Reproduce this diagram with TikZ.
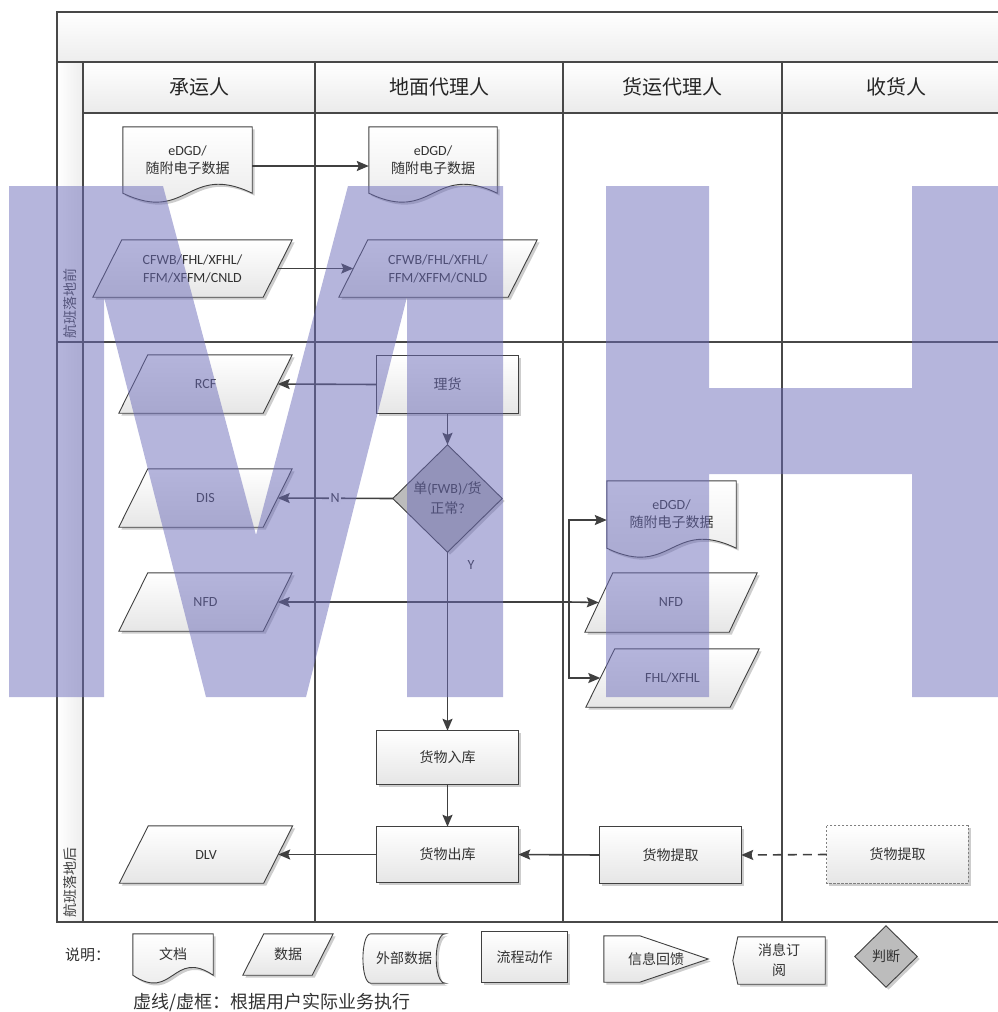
\documentclass[tikz,border=0pt]{standalone}
\usepackage{fontspec}
\setmainfont{Carlito}
\newfontfamily\cjkfont{Noto Sans CJK SC}
\newcommand\ZH[1]{{\cjkfont #1}}
\usetikzlibrary{shapes.geometric,arrows.meta,calc}
\pgfdeclarelayer{background}
\pgfdeclarelayer{foreground}
\pgfsetlayers{background,main,foreground}
\definecolor{lineC}{RGB}{64,64,64}
\definecolor{frameC}{RGB}{72,72,72}
\definecolor{txtC}{RGB}{50,50,50}
\definecolor{shadeB}{RGB}{230,230,230}
\definecolor{shadowC}{RGB}{205,205,205}
\definecolor{diaC}{RGB}{188,188,188}
\definecolor{wmC}{RGB}{107,107,185}
\tikzset{
  shp/.style={draw=lineC,line width=0.9pt,top color=white,bottom color=shadeB},
  dshp/.style={draw=gray,line width=0.9pt,dash pattern=on 2.5pt off 1.5pt,top color=white,bottom color=shadeB},
  diashp/.style={draw=lineC,line width=0.9pt,fill=diaC},
  txt/.style={text=txtC,font=\fontsize{14}{18}\selectfont,align=center,inner sep=0pt},
  procbox/.style={txt,rectangle,minimum width=141pt,minimum height=56pt},
  databox/.style={txt,rectangle,minimum width=144pt,minimum height=58pt},
  docbox/.style={txt,rectangle,minimum width=129pt,minimum height=66pt},
  headtxt/.style={text=black!85,font=\fontsize{20}{24}\selectfont\cjkfont,inner sep=0pt},
  phasetxt/.style={text=black!75,font=\fontsize{14}{16}\selectfont\cjkfont,inner sep=0pt,rotate=90},
  conn/.style={draw=lineC,line width=1.6pt,-{Stealth[length=12pt,width=10pt,inset=2pt]}},
  frame/.style={draw=frameC,line width=1.3pt},
}
\newcommand\drawshape[2]{%
  \begin{pgfonlayer}{background}
    \fill[shadowC,transform canvas={shift={(2.5pt,-2.5pt)}}] #2;
    \path[#1] #2;
  \end{pgfonlayer}}
\newcommand\rectshape[2][shp]{\drawshape{#1}{(#2.north west) rectangle (#2.south east)}}
\newcommand\parashape[3][shp]{\drawshape{#1}{([xshift=#3pt]#2.north west) -- ([xshift=#3pt]#2.north east) -- ([xshift=-#3pt]#2.south east) -- ([xshift=-#3pt]#2.south west) -- cycle}}
\newcommand\docshape[3][shp]{\drawshape{#1}{(#2.north west) -- (#2.north east) -- (#2.south east) .. controls ($(#2.south)+(0,-#3)$) and ($(#2.south)+(0,#3)$) .. (#2.south west) -- cycle}}
\newcommand\diashape[2][diashp]{\drawshape{#1}{(#2.north) -- (#2.east) -- (#2.south) -- (#2.west) -- cycle}}
\begin{document}
\begin{tikzpicture}[x=1pt,y=-1pt]
\useasboundingbox (0,0) rectangle (998,1012);
% ---------- frame ----------
\begin{pgfonlayer}{background}
  \shade[top color=white,bottom color=black!7] (57,12) rectangle (1012,62);
  \shade[top color=white,bottom color=black!8] (83,62) rectangle (1012,113);
  \shade[left color=white,right color=black!7] (57,62) rectangle (83,922);
  \draw[frame] (1012,12) -- (57,12) -- (57,922) -- (1012,922);
  \draw[frame] (57,62) -- (1012,62);
  \draw[frame] (83,62) -- (83,922);
  \draw[frame] (83,113) -- (1012,113);
  \draw[frame] (57,342) -- (1012,342);
  \draw[frame] (315,62) -- (315,922);
  \draw[frame] (563,62) -- (563,922);
  \draw[frame] (782,62) -- (782,922);
\end{pgfonlayer}
\node[headtxt] (h1) at (199,87) {承运人};
\node[headtxt] (h2) at (439,87) {地面代理人};
\node[headtxt] (h3) at (672.5,87) {货运代理人};
\node[headtxt] (h4) at (896,87) {收货人};
\node[phasetxt] (p1) at (70,303.5) {航班落地前};
\node[phasetxt] (p2) at (70,882) {航班落地后};
% ---------- before landing ----------
\node[docbox] (d1) at (187.5,160) {eDGD/\\\ZH{随附电子数据}};
\docshape{d1}{31}
\node[docbox,minimum width=128pt] (d2) at (433,160) {eDGD/\\\ZH{随附电子数据}};
\docshape{d2}{31}
\node[databox,minimum width=170pt,minimum height=57pt] (c1) at (192.5,268.5) {CFWB/FHL/XFHL/\\FFM/XFFM/CNLD};
\parashape{c1}{14.5}
\node[databox,minimum width=169pt,minimum height=57pt] (c2) at (438,268.5) {CFWB/FHL/XFHL/\\FFM/XFFM/CNLD};
\parashape{c2}{14.5}
\draw[conn] ([yshift=-6pt]d1.east) -- ([yshift=-6pt]d2.west);
\draw[conn] (c1.east) -- (c2.west);
% ---------- after landing ----------
\node[databox] (rcf) at (205.5,384) {RCF};
\parashape{rcf}{14.5}
\node[procbox,minimum height=57pt] (lihuo) at (447.5,384.5) {\ZH{理货}};
\rectshape{lihuo}
\node[txt,diamond,minimum width=109pt,minimum height=107pt,font=\fontsize{14}{20}\selectfont] (dia) at (447.5,498.5) {\ZH{单}(FWB)/\ZH{货}\\\ZH{正常}?};
\diashape{dia}
\node[databox] (dis) at (205.5,498) {DIS};
\parashape{dis}{14.5}
\node[databox] (nfd1) at (205.5,602) {NFD};
\parashape{nfd1}{14.5}
\node[docbox,minimum height=67pt] (d3) at (671.5,514.5) {eDGD/\\\ZH{随附电子数据}};
\docshape{d3}{31}
\node[databox,minimum height=59pt] (nfd2) at (671,602.5) {NFD};
\parashape{nfd2}{14}
\node[databox] (fhl) at (672.5,678) {FHL/XFHL};
\parashape{fhl}{14.5}
\node[procbox,minimum height=53pt] (ruku) at (447.5,757.5) {\ZH{货物入库}};
\rectshape{ruku}
\node[procbox,minimum height=55pt] (chuku) at (447.5,854.5) {\ZH{货物出库}};
\rectshape{chuku}
\node[databox,minimum height=57pt] (dlv) at (206,854.5) {DLV};
\parashape{dlv}{14.5}
\node[procbox] (tq1) at (670.5,855) {\ZH{货物提取}};
\rectshape{tq1}
\node[procbox,minimum height=57pt] (tq2) at (897.5,854.5) {\ZH{货物提取}};
\rectshape[dshp]{tq2}
\node[txt] (ylab) at (471,565) {Y};
\coordinate (j1) at (dia.south |- nfd1.east);
\coordinate (j2) at (569,602);
\draw[conn] (lihuo.west) -- (rcf.east);
\draw[conn] (lihuo.south) -- (dia.north);
\draw[conn] (dia.west) -- node[midway,txt,fill=white,inner sep=1.5pt] (nlab) {N} (dis.east);
\draw[conn] (dia.south) -- (ruku.north);
\draw[conn] (j1) -- (nfd1.east);
\draw[conn] (j1) -- (j2) -- (nfd2.west);
\draw[conn] (j2) |- ([yshift=-5.5pt]d3.west);
\draw[conn] (j2) |- (fhl.west);
\draw[conn] (ruku.south) -- (chuku.north);
\draw[conn] (chuku.west) -- (dlv.east);
\draw[conn] (tq1.west) -- (chuku.east);
\draw[conn,dash pattern=on 9pt off 6pt] (tq2.west) -- (tq1.east);
% ---------- legend ----------
\node[txt,font=\fontsize{15}{18}\selectfont\cjkfont] (sm) at (87.5,955) {说明：};
\node[txt,minimum width=80pt,minimum height=41pt] (ldoc) at (173,954.5) {\ZH{文档}};
\docshape{ldoc}{27}
\node[txt,minimum width=69pt,minimum height=41pt] (ldata) at (288,954.5) {\ZH{数据}};
\parashape{ldata}{10.5}
\node[txt,minimum width=82pt,minimum height=49pt] (lext) at (404,958.5) {\ZH{外部数据}};
\drawshape{shp}{([xshift=8pt]lext.north west) -- (lext.north east) .. controls ([xshift=-12pt]lext.north east) and ([xshift=-12pt]lext.south east) .. (lext.south east) -- ([xshift=8pt]lext.south west) .. controls ([xshift=-2.5pt]lext.south west) and ([xshift=-2.5pt]lext.north west) .. ([xshift=8pt]lext.north west) -- cycle}
\node[txt,minimum width=85pt,minimum height=50pt] (lproc) at (524.5,957) {\ZH{流程动作}};
\rectshape{lproc}
\node[txt,minimum width=104pt,minimum height=46pt] (lfb) at (656,959) {\ZH{信息回馈}};
\drawshape{shp}{(lfb.north west) -- ([xshift=36pt]lfb.north west) -- (lfb.east) -- ([xshift=36pt]lfb.south west) -- (lfb.south west) -- cycle}
\node[txt,minimum width=92pt,minimum height=47pt,font=\fontsize{14}{20}\selectfont] (lsub) at (779,960.5) {\ZH{消息订}\\\ZH{阅}};
\drawshape{shp}{([xshift=5pt]lsub.north west) -- (lsub.north east) -- (lsub.south east) -- ([xshift=5pt]lsub.south west) -- (lsub.west) -- cycle}
\node[txt,diamond,minimum width=62pt,minimum height=61pt] (ljud) at (886,956.5) {\ZH{判断}};
\diashape{ljud}
\node[txt,anchor=west,font=\fontsize{18}{20}\selectfont\cjkfont] (note) at (133,1002) {虚线/虚框：根据用户实际业务执行};
% ---------- watermark ----------
\begin{pgfonlayer}{foreground}
  \fill[wmC,fill opacity=0.5] (9,186) -- (163,186) -- (256,535) -- (348,186) -- (503,186) -- (503,697) -- (407,697) -- (407,297) -- (306,697) -- (206,697) -- (104,297) -- (104,697) -- (9,697) -- cycle;
  \fill[wmC,fill opacity=0.5] (606,186) -- (709,186) -- (709,388) -- (912,388) -- (912,186) -- (1015,186) -- (1015,697) -- (912,697) -- (912,474) -- (709,474) -- (709,697) -- (606,697) -- cycle;
\end{pgfonlayer}
\end{tikzpicture}
\end{document}
